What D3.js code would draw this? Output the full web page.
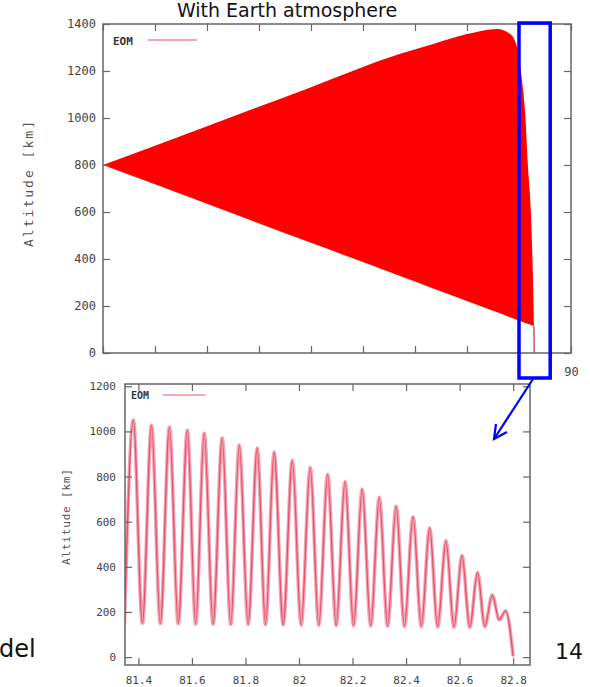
<!DOCTYPE html>
<html><head><meta charset="utf-8">
<script src="https://cdn.jsdelivr.net/npm/d3@7"></script>
<style>body{margin:0;background:#fff;} svg{display:block}</style>
</head><body><svg id="c" width="590" height="687"></svg>
<script>
// ---------- data ----------
const titleText = "With Earth atmosphere";
const seriesName = "EOM";
const axisTitle = "Altitude [km]";
const pageNumber = "14";
const cutText = "del";

// overview (days 0..90): envelope of the dense oscillation
const envTime  = [0, 20, 40, 57, 63.5, 70, 75.8, 78.3, 79.6, 80.6, 81.2, 81.7, 82.3, 82.7, 82.88];
const envUpper = [800, 965, 1131, 1272, 1315, 1357, 1379, 1357, 1302, 1157, 1016, 802, 589, 303, 114];
const envLower = [800, 635, 469, 329, 275, 221, 173, 152, 142, 133, 128, 124, 119, 116, 114];
const tailTime = [82.88, 82.92];
const tailAlt  = [114, 0];
const topXTicks = [0, 10, 20, 30, 40, 50, 60, 70, 80, 90];
const topYTicks = [0, 200, 400, 600, 800, 1000, 1200, 1400];

// zoom (days 81.35..82.86)
const apogeeTime = [81.381, 81.449, 81.516, 81.583, 81.646, 81.713, 81.777, 81.844, 81.907, 81.975, 82.042, 82.107, 82.172, 82.236, 82.300, 82.363, 82.426, 82.488, 82.549, 82.609, 82.667, 82.722, 82.772];
const apogeeAlt  = [1050, 1027, 1019, 1005, 992, 970, 939, 926, 908, 872, 841, 810, 778, 745, 708, 668, 622, 572, 515, 450, 375, 275, 205];
const perigeeTime = [81.348, 81.415, 81.482, 81.549, 81.614, 81.679, 81.745, 81.810, 81.875, 81.941, 82.008, 82.074, 82.139, 82.204, 82.268, 82.331, 82.394, 82.457, 82.518, 82.579, 82.638, 82.694, 82.748];
const perigeeAlt  = [150, 150, 148, 148, 147, 146, 145, 145, 144, 143, 142, 141, 140, 139, 138, 137, 136, 135, 134, 133, 132, 135, 165];
const reentryTime = [82.800];
const reentryAlt  = [3];
const zoomXTicks = [81.4, 81.6, 81.8, 82.0, 82.2, 82.4, 82.6, 82.8];
const zoomXLabels = ["81.4", "81.6", "81.8", "82", "82.2", "82.4", "82.6", "82.8"];
const zoomYTicks = [0, 200, 400, 600, 800, 1000, 1200];
const zoomWindow = [80.0, 86.0];

// ---------- drawing ----------
const svg = d3.select("#c");
const mono = "'DejaVu Sans Mono', monospace";
const frameCol = "#666";

// title
svg.append("text").attr("x", 287).attr("y", 17).attr("text-anchor", "middle")
  .attr("font-family", "'DejaVu Sans', Verdana, sans-serif").attr("font-size", 19)
  .attr("fill", "#111").text(titleText);

// ===== top chart =====
const T = {l: 103, r: 571, t: 24, b: 353};
const tx = d3.scaleLinear().domain([0, 90]).range([T.l, T.r]);
const ty = d3.scaleLinear().domain([0, 1400]).range([T.b, T.t]);
const gTop = svg.append("g");

const envData = envTime.map((t, i) => ({t, u: envUpper[i], l: envLower[i]}));
gTop.append("path").datum(envData)
  .attr("d", d3.area().x(d => tx(d.t)).y0(d => ty(d.l)).y1(d => ty(d.u)).curve(d3.curveMonotoneX))
  .attr("fill", "#ff0000");
gTop.append("path").datum(tailTime.map((t, i) => ({t, a: tailAlt[i]})))
  .attr("d", d3.line().x(d => tx(d.t)).y(d => ty(d.a)))
  .attr("stroke", "#a01010").attr("stroke-width", 1).attr("fill", "none");

function styleAxis(g, size) {
  g.select(".domain").remove();
  g.selectAll(".tick line").attr("stroke", frameCol).attr("stroke-width", 1.2);
  g.selectAll(".tick text").attr("font-family", mono).attr("font-size", size).attr("fill", "#444");
}
styleAxis(gTop.append("g").attr("transform", `translate(${T.l},0)`)
  .call(d3.axisLeft(ty).tickValues(topYTicks).tickSize(-7).tickPadding(7).tickFormat(d3.format("d"))), 12);
styleAxis(gTop.append("g").attr("transform", `translate(${T.r},0)`)
  .call(d3.axisRight(ty).tickValues(topYTicks).tickSize(-7).tickFormat("")), 12);
styleAxis(gTop.append("g").attr("transform", `translate(0,${T.t})`)
  .call(d3.axisTop(tx).tickValues(topXTicks).tickSize(-7).tickFormat("")), 12);
styleAxis(gTop.append("g").attr("transform", `translate(0,${T.b})`)
  .call(d3.axisBottom(tx).tickValues(topXTicks).tickSize(-7).tickPadding(14).tickFormat(d3.format("d"))), 12);
gTop.append("rect").attr("x", T.l).attr("y", T.t).attr("width", T.r - T.l).attr("height", T.b - T.t)
  .attr("fill", "none").attr("stroke", frameCol).attr("stroke-width", 1.5);

// legend
gTop.append("text").attr("x", 113).attr("y", 45).attr("font-family", mono).attr("font-size", 11)
  .attr("font-weight", "bold").attr("fill", "#333").text(seriesName);
gTop.append("line").attr("x1", 148).attr("x2", 197).attr("y1", 40).attr("y2", 40)
  .attr("stroke", "#f28a9a").attr("stroke-width", 1.6);
gTop.append("text").attr("transform", `translate(33,184) rotate(-90)`).attr("text-anchor", "middle")
  .attr("font-family", mono).attr("font-size", 13).attr("fill", "#555")
  .attr("textLength", 126).attr("lengthAdjust", "spacing").text(axisTitle);

// ===== bottom chart (pasted panel) =====
svg.append("rect").attr("x", 50).attr("y", 359).attr("width", 495).attr("height", 328).attr("fill", "#fff");
const B = {l: 125, r: 530, t: 384, b: 665};
const bx = d3.scaleLinear().domain([81.35, 82.863]).range([B.l, B.r]);
const by = d3.scaleLinear().domain([-35, 1210]).range([B.b, B.t]);
const gB = svg.append("g");
svg.append("clipPath").attr("id", "clipB").append("rect")
  .attr("x", B.l).attr("y", B.t).attr("width", B.r - B.l).attr("height", B.b - B.t);

const pts = apogeeTime.map((t, i) => ({t, a: apogeeAlt[i]}))
  .concat(perigeeTime.map((t, i) => ({t, a: perigeeAlt[i]})))
  .concat(reentryTime.map((t, i) => ({t, a: reentryAlt[i]})))
  .sort((p, q) => p.t - q.t);
const bLine = d3.line().x(d => bx(d.t)).y(d => by(d.a)).curve(d3.curveMonotoneX);
const gClip = gB.append("g").attr("clip-path", "url(#clipB)");
gClip.append("path").datum(pts).attr("d", bLine).attr("fill", "none")
  .attr("stroke", "#f6a3b1").attr("stroke-width", 3.6);
gClip.append("path").datum(pts).attr("d", bLine).attr("fill", "none")
  .attr("stroke", "#e2536b").attr("stroke-width", 1.3);

styleAxis(gB.append("g").attr("transform", `translate(${B.l},0)`)
  .call(d3.axisLeft(by).tickValues(zoomYTicks).tickSize(-7).tickPadding(9).tickFormat(d3.format("d"))), 11);
styleAxis(gB.append("g").attr("transform", `translate(${B.r},0)`)
  .call(d3.axisRight(by).tickValues(zoomYTicks).tickSize(-7).tickFormat("")), 11);
styleAxis(gB.append("g").attr("transform", `translate(0,${B.t})`)
  .call(d3.axisTop(bx).tickValues(zoomXTicks).tickSize(-7).tickFormat("")), 11);
styleAxis(gB.append("g").attr("transform", `translate(0,${B.b})`)
  .call(d3.axisBottom(bx).tickValues(zoomXTicks).tickSize(-7).tickPadding(11)
    .tickFormat((d, i) => zoomXLabels[i])), 11);
gB.append("rect").attr("x", B.l).attr("y", B.t).attr("width", B.r - B.l).attr("height", B.b - B.t)
  .attr("fill", "none").attr("stroke", frameCol).attr("stroke-width", 1.5);
gB.append("text").attr("x", 131).attr("y", 399).attr("font-family", mono).attr("font-size", 10)
  .attr("font-weight", "bold").attr("fill", "#333").text(seriesName);
gB.append("line").attr("x1", 163).attr("x2", 205).attr("y1", 395).attr("y2", 395)
  .attr("stroke", "#f28a9a").attr("stroke-width", 1.6);
gB.append("text").attr("transform", `translate(70,517) rotate(-90)`).attr("text-anchor", "middle")
  .attr("font-family", mono).attr("font-size", 11).attr("fill", "#555")
  .attr("textLength", 96).attr("lengthAdjust", "spacing").text(axisTitle);

// ===== annotation: zoom box and arrow =====
const boxX0 = tx(zoomWindow[0]), boxX1 = tx(zoomWindow[1]);
svg.append("rect").attr("x", boxX0).attr("y", T.t - 1).attr("width", boxX1 - boxX0).attr("height", 378 - T.t + 1)
  .attr("fill", "none").attr("stroke", "#0000ff").attr("stroke-width", 3.5);
const ax0 = 533, ay0 = 379, ax1 = 494, ay1 = 439;
svg.append("line").attr("x1", ax0).attr("y1", ay0).attr("x2", ax1).attr("y2", ay1)
  .attr("stroke", "#0000ff").attr("stroke-width", 2.2);
svg.append("path").attr("d", `M${ax1 + 2},${ay1 - 15} L${ax1},${ay1} L${ax1 + 13},${ay1 - 7}`)
  .attr("fill", "none").attr("stroke", "#0000ff").attr("stroke-width", 2.2);

// slide texts
svg.append("text").attr("x", -1).attr("y", 657).attr("font-family", "'DejaVu Sans', Verdana, sans-serif")
  .attr("font-size", 24).attr("fill", "#111").text(cutText);
svg.append("text").attr("x", 555).attr("y", 659).attr("font-family", "'DejaVu Sans', Verdana, sans-serif")
  .attr("font-size", 22).attr("fill", "#111").text(pageNumber);
</script></body></html>
